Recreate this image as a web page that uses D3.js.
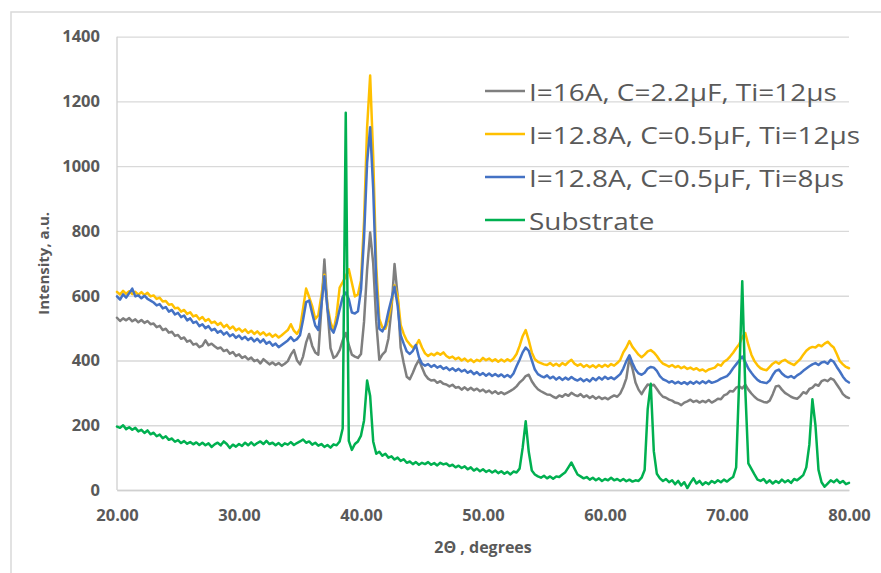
<!DOCTYPE html>
<html>
<head>
<meta charset="utf-8">
<script src="https://cdn.jsdelivr.net/npm/d3@7"></script>
<style>
  body { margin: 0; background: #fff; }
  svg { display: block; }
</style>
</head>
<body>
<div id="chart"></div>
<script>
// 2θ scan: 20..80 deg, read every 0.25 deg off the plot
const angleStart = 20
const angleStep = 0.25

const seriesNames = [
  'I=16A, C=2.2μF, Ti=12μs',
  'I=12.8A, C=0.5μF, Ti=12μs',
  'I=12.8A, C=0.5μF, Ti=8μs',
  'Substrate'
]

const gray16A = [
  532,522,530,524, 531,521,527,518, 525,516,522,512, 514,503,507,494,
  498,486,489,476, 479,467,471,458, 462,449,452,441, 446,462,447,452,
  444,437,440,429, 433,421,426,414, 419,408,413,403, 409,398,402,391,
  404,396,388,394, 386,392,384,390, 398,418,432,401, 388,412,455,482,
  445,425,418,560, 712,560,438,408, 415,432,462,485, 448,418,412,408,
  420,520,680,795, 700,520,402,418, 428,468,560,698, 600,440,392,350,
  342,362,385,402, 378,356,344,338, 340,331,336,328, 326,320,325,316,
  318,310,317,309, 316,308,313,305, 310,302,307,299, 305,297,302,296,
  301,306,312,320, 332,340,352,356, 336,322,311,305, 300,295,294,288,
  284,292,288,296, 291,300,294,290, 296,287,292,284, 290,282,288,281,
  285,280,287,292, 288,298,318,345, 408,375,332,310, 296,312,326,322,
  325,312,298,288, 285,279,276,270, 268,262,270,274, 279,272,276,270,
  275,271,278,270, 275,282,280,292, 296,306,304,316, 320,314,325,310,
  298,288,280,276, 272,270,276,296, 320,322,310,300, 294,288,284,282,
  290,302,298,312, 316,326,322,336, 340,336,345,340, 326,312,296,288,
  284
]

const yellow12us = [
  612,604,615,606, 614,605,612,603, 611,602,609,598, 601,590,594,582,
  584,572,574,561, 563,551,556,544, 549,536,540,527, 534,522,528,516,
  520,510,516,503, 510,498,505,493, 499,489,496,485, 492,482,490,480,
  487,477,483,473, 480,471,478,486, 494,512,492,482, 498,560,622,596,
  568,528,540,600, 665,570,518,492, 540,625,642,660, 682,640,598,604,
  648,830,1120,1280, 1030,690,528,502, 498,528,578,632, 600,510,482,462,
  450,440,446,463, 440,422,414,421, 416,424,418,425, 414,408,412,404,
  409,400,406,397, 403,395,402,398, 408,401,406,398, 404,396,403,397,
  404,398,406,420, 445,475,494,462, 425,404,396,392, 388,386,392,384,
  390,383,392,386, 395,402,390,384, 389,380,386,379, 385,378,386,380,
  387,381,389,384, 392,402,425,440, 460,442,430,418, 410,418,428,432,
  425,414,400,390, 386,381,386,379, 383,376,381,374, 378,372,376,369,
  372,366,372,375, 378,388,384,396, 402,412,424,438, 450,472,485,448,
  418,398,385,376, 372,370,380,390, 396,390,398,402, 395,390,386,395,
  404,418,430,438, 442,440,448,444, 452,458,448,440, 420,398,388,380,
  376
]

const blue8us = [
  598,588,604,594, 608,622,598,601, 592,600,590,585, 579,570,574,561,
  565,551,556,542, 547,534,539,524, 530,516,520,506, 512,500,506,493,
  498,486,492,480, 487,475,481,470, 477,466,473,463, 470,459,467,456,
  465,452,458,446, 452,441,448,455, 462,472,460,466, 478,525,580,585,
  545,508,494,570, 660,560,500,486, 515,558,596,610, 590,548,545,552,
  618,780,1010,1120, 930,640,498,490, 508,552,590,628, 570,478,452,428,
  420,430,448,410, 390,384,389,380, 386,378,383,374, 379,370,376,368,
  374,366,371,362, 368,358,364,355, 361,353,360,352, 358,351,357,349,
  355,348,360,382, 402,425,440,430, 400,372,358,352, 348,354,345,350,
  341,348,340,347, 341,349,342,338, 344,336,342,335, 346,339,348,341,
  350,343,348,342, 350,358,375,398, 416,392,372,360, 356,362,375,380,
  378,368,352,342, 338,332,336,329, 334,328,333,327, 334,328,335,329,
  336,330,337,331, 334,338,344,348, 352,362,376,388, 400,412,395,375,
  362,350,340,334, 332,330,338,355, 368,372,360,352, 348,352,346,354,
  360,368,375,382, 388,392,386,394, 396,390,402,396, 380,366,350,338,
  332
]

const substrate = [
  196,192,200,188, 194,186,192,181, 186,176,184,172, 177,166,171,160,
  166,155,159,149, 154,145,151,143, 148,141,147,139, 146,138,144,133,
  141,146,138,150, 142,130,140,134, 142,136,146,138, 147,138,145,150,
  142,152,142,146, 138,145,136,144, 140,148,139,145, 150,156,146,150,
  140,146,137,142, 133,139,131,141, 138,150,190,1165, 152,124,142,150,
  168,215,338,290, 150,112,118,106, 112,100,104,94, 100,90,95,84,
  88,80,86,78, 84,80,86,78, 83,76,84,79, 82,74,78,70,
  75,68,73,64, 70,60,66,58, 64,56,61,54, 60,52,58,50,
  56,48,57,54, 66,130,212,118, 60,48,42,38, 44,36,42,35,
  42,40,48,55, 70,85,66,48, 42,36,40,32, 38,30,36,28,
  34,30,38,30, 34,28,34,27, 32,26,30,28, 38,62,250,328,
  120,50,36,28, 34,24,30,18, 28,14,24,6, 22,36,20,28,
  16,24,18,28, 22,30,24,32, 26,34,40,70, 340,645,310,82,
  65,48,32,28, 34,22,30,20, 28,22,32,24, 30,22,34,30,
  38,46,70,140, 280,200,62,24, 10,20,30,24, 32,22,28,18,
  22
]

const yTicks = [0, 200, 400, 600, 800, 1000, 1200, 1400]
const xTicks = [20, 30, 40, 50, 60, 70, 80]

const colors = ['#7f7f7f', '#ffc000', '#4472c4', '#00b050']

const width = 881
const height = 573
const plot = { left: 117, right: 849, top: 36.7, bottom: 490 }
const font = '"Open Sans", sans-serif'
const textGray = '#595959'

const svg = d3.select('#chart')
  .append('svg')
  .attr('width', width)
  .attr('height', height)

// outer chart border
svg.append('rect')
  .attr('x', 11).attr('y', 12)
  .attr('width', 880).attr('height', 580)
  .attr('fill', '#fff')
  .attr('stroke', '#d9d9d9')
  .attr('stroke-width', 1.5)

const x = d3.scaleLinear().domain([20, 80]).range([plot.left, plot.right])
const y = d3.scaleLinear().domain([0, 1400]).range([plot.bottom, plot.top])

// gridlines + y labels
const yAxis = svg.append('g')
  .attr('transform', `translate(${plot.left},0)`)
  .call(d3.axisLeft(y).tickValues(yTicks).tickFormat(d3.format('d'))
    .tickSize(-(plot.right - plot.left)).tickPadding(17))
yAxis.select('.domain').remove()
yAxis.selectAll('.tick line').attr('stroke', '#d9d9d9').attr('stroke-width', 1.3)
yAxis.selectAll('.tick text')
  .attr('fill', textGray)
  .style('font-family', font)
  .style('font-weight', 700)
  .style('font-size', '16.5px')

// left axis line
svg.append('line')
  .attr('x1', plot.left).attr('x2', plot.left)
  .attr('y1', plot.top).attr('y2', plot.bottom)
  .attr('stroke', '#d0d0d0').attr('stroke-width', 1.3)

const xAxis = svg.append('g')
  .attr('transform', `translate(0,${plot.bottom})`)
  .call(d3.axisBottom(x).tickValues(xTicks).tickFormat(d3.format('.2f'))
    .tickSize(0).tickPadding(19))
xAxis.select('.domain').attr('stroke', '#d0d0d0').attr('stroke-width', 1.3)
xAxis.selectAll('.tick text')
  .attr('fill', textGray)
  .style('font-family', font)
  .style('font-weight', 700)
  .style('font-size', '16.5px')

// axis titles
svg.append('text')
  .attr('x', (plot.left + plot.right) / 2)
  .attr('y', 553)
  .attr('text-anchor', 'middle')
  .attr('fill', textGray)
  .style('font-family', font)
  .style('font-weight', 700)
  .style('font-size', '16px')
  .text('2Θ , degrees')

svg.append('text')
  .attr('transform', `translate(49,${(plot.top + plot.bottom) / 2}) rotate(-90)`)
  .attr('text-anchor', 'middle')
  .attr('fill', textGray)
  .style('font-family', font)
  .style('font-weight', 700)
  .style('font-size', '15px')
  .text('Intensity, a.u.')

// series
const allSeries = [gray16A, yellow12us, blue8us, substrate]

const line = d3.line()
  .x((d, i) => x(angleStart + i * angleStep))
  .y(d => y(d))

svg.append('g')
  .selectAll('path')
  .data(allSeries)
  .enter()
  .append('path')
  .attr('d', d => line(d))
  .attr('fill', 'none')
  .attr('stroke', (d, i) => colors[i])
  .attr('stroke-width', 2.5)
  .attr('stroke-linejoin', 'round')
  .attr('stroke-linecap', 'round')

// legend
const legend = svg.append('g').attr('transform', 'translate(485,91)')
const legendRow = 43

const items = legend.selectAll('g')
  .data(seriesNames)
  .enter()
  .append('g')
  .attr('transform', (d, i) => `translate(0,${i * legendRow})`)

items.append('line')
  .attr('x1', 0).attr('x2', 40)
  .attr('stroke', (d, i) => colors[i])
  .attr('stroke-width', 2.5)

const labels = items.append('text')
  .attr('y', 10)
  .attr('fill', textGray)
  .style('font-family', font)
  .style('font-size', '23px')
  .text(d => d)

// legend lettering in the source is wide: stretch so the first label spans ~308px
const firstLen = labels.node().getComputedTextLength()
const stretch = 308 / firstLen
labels.attr('transform', `translate(44,0) scale(${stretch},1)`)
</script>
</body>
</html>
